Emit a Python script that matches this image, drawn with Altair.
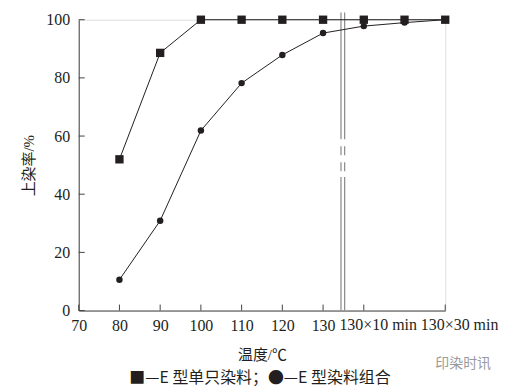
import altair as alt
import pandas as pd

# ---- data ----
x_pos = [80, 90, 100, 110, 120, 130, 140, 150, 160]
single_dye = [52.0, 88.6, 100, 100, 100, 100, 100, 100, 100]
combo_dye = [10.6, 30.9, 61.9, 78.2, 87.9, 95.4, 97.8, 99.0, 100]

x_ticks = [70, 80, 90, 100, 110, 120, 130, 140, 160]
x_num_labels = [70, 80, 90, 100, 110, 120, 130]
x_extra_pos = [140, 160]
x_extra_text = ["130×10 min", "130×30 min"]
y_ticks = [0, 20, 40, 60, 80, 100]

break_x = [134.4, 135.3]
break_segments = [(0, 45.9), (47.9, 51.0), (53.4, 56.5), (58.9, 102.5)]

FONT = "Liberation Serif, Noto Sans CJK SC"
CJK = "Noto Sans CJK SC"
INK = "#231f20"
W, H = 368, 292

df_single = pd.DataFrame({"x": x_pos, "y": single_dye})
df_combo = pd.DataFrame({"x": x_pos, "y": combo_dye})
df_xt = pd.DataFrame({"x": x_ticks})
df_yt = pd.DataFrame({"y": y_ticks})
df_extra = pd.DataFrame({"x": x_extra_pos, "t": x_extra_text})
df_break = pd.DataFrame(
    [{"x": bx, "y1": a, "y2": b} for bx in break_x for (a, b) in break_segments]
)

xscale = alt.Scale(domain=[70, 160], nice=False, zero=False)
yscale = alt.Scale(domain=[0, 100], nice=False)

xaxis = alt.Axis(
    values=x_num_labels, ticks=False, grid=False, title="温度/℃",
    labelFontSize=16, labelPadding=7, titleFontSize=15, titlePadding=14,
    titleFontWeight="normal", domainColor="#444", labelColor=INK, titleColor=INK,
    labelFont=FONT, titleFont=FONT, labelFlush=False,
)
yaxis = alt.Axis(
    values=y_ticks, ticks=False, grid=False, title="上染率/%",
    labelFontSize=16, labelPadding=9, titleFontSize=15, titlePadding=9,
    titleFontWeight="normal", domainColor="#444", labelColor=INK, titleColor=INK,
    labelFont=FONT, titleFont=FONT,
)

base_axes = alt.Chart(df_single).mark_point(opacity=0).encode(
    x=alt.X("x:Q", scale=xscale, axis=xaxis),
    y=alt.Y("y:Q", scale=yscale, axis=yaxis),
)

xt = alt.Chart(df_xt).mark_rule(color="#444", strokeWidth=1).encode(
    x=alt.X("x:Q", scale=xscale), y=alt.value(H), y2=alt.value(H - 6)
)
yt = alt.Chart(df_yt).mark_rule(color="#444", strokeWidth=1).encode(
    y=alt.Y("y:Q", scale=yscale), x=alt.value(0), x2=alt.value(6)
)

extra_lbl = alt.Chart(df_extra).mark_text(
    align="left", baseline="top", dx=-24.5, dy=7, fontSize=16, font=FONT, color=INK
).encode(x=alt.X("x:Q", scale=xscale), y=alt.value(H), text="t:N")

brk = alt.Chart(df_break).mark_rule(color="#888", strokeWidth=1.2, clip=False).encode(
    x=alt.X("x:Q", scale=xscale), y=alt.Y("y1:Q", scale=yscale), y2="y2:Q"
)

line_s = alt.Chart(df_single).mark_line(color=INK, strokeWidth=1).encode(
    x=alt.X("x:Q", scale=xscale), y=alt.Y("y:Q", scale=yscale)
)
pts_s = alt.Chart(df_single).mark_point(
    shape="square", filled=True, size=70, color=INK, opacity=1
).encode(x=alt.X("x:Q", scale=xscale), y=alt.Y("y:Q", scale=yscale))

line_c = alt.Chart(df_combo).mark_line(color=INK, strokeWidth=1).encode(
    x=alt.X("x:Q", scale=xscale), y=alt.Y("y:Q", scale=yscale)
)
pts_c = alt.Chart(df_combo).mark_point(
    shape="circle", filled=True, size=42, color=INK, opacity=1
).encode(x=alt.X("x:Q", scale=xscale), y=alt.Y("y:Q", scale=yscale))

legend_txt = alt.Chart(pd.DataFrame({"t": ["■—E 型单只染料；●—E 型染料组合"]})).mark_text(
    fontSize=16, font=CJK, color=INK, align="center", baseline="middle"
).encode(x=alt.value(W / 2 - 2), y=alt.value(H + 68), text="t:N")

mark_txt = alt.Chart(pd.DataFrame({"t": ["印染时讯"]})).mark_text(
    fontSize=14, font=CJK, color="#9a9a9a", align="left", baseline="middle"
).encode(x=alt.value(358), y=alt.value(H + 54), text="t:N")

chart = alt.layer(
    base_axes, brk, xt, yt, line_s, line_c, pts_c, pts_s, extra_lbl, legend_txt, mark_txt
).properties(
    width=W, height=H,
    autosize="none",
    padding={"left": 71, "top": 11, "right": 60, "bottom": 76},
).configure_view(stroke=None).configure(background="white")

chart.save("out.html", embed_options={"renderer": "svg", "actions": False})
